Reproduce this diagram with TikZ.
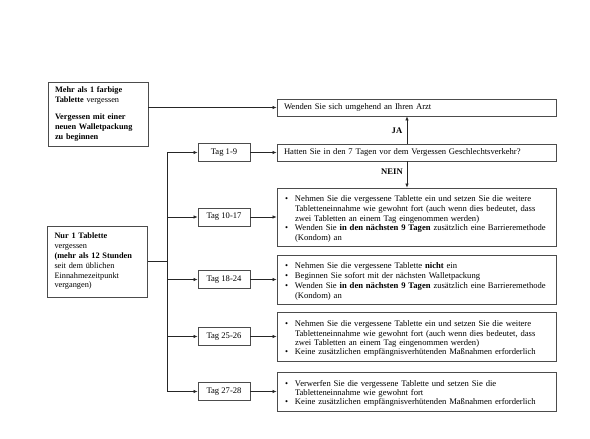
\documentclass[tikz,border=0pt]{standalone}
\usepackage{fontspec}
\setmainfont{Liberation Serif}
\usetikzlibrary{arrows.meta}
\newcommand{\itm}[1]{\par\noindent\makebox[11pt][l]{\hspace{1pt}\textbullet}\parbox[t]{\dimexpr\linewidth-11pt}{\raggedright #1}}

\begin{document}
\begin{tikzpicture}[x=1pt,y=-1pt,font=\fontsize{8.6}{9.8}\selectfont,
  box/.style={draw=black!70,line width=0.8pt,inner xsep=7pt,inner ysep=2pt,align=left},
  leftbox/.style={box,text width=86pt,font=\fontsize{8.3}{9.8}\selectfont},
  tagbox/.style={draw=black!70,line width=0.8pt,minimum width=52pt,minimum height=18pt,inner sep=1pt},
  arr/.style={-{Latex[length=4pt,width=3.5pt]},line width=0.7pt,black!85},
  conn/.style={line width=0.7pt,black!85}]
\useasboundingbox (0,0) rectangle (590,439);
\node[leftbox,minimum height=64pt] at (98,114) (left1) {\textbf{Mehr als 1 farbige}\\ \textbf{Tablette} vergessen\\[7pt] \textbf{Vergessen mit einer}\\ \textbf{neuen Walletpackung}\\ \textbf{zu beginnen}};
\node[leftbox,minimum height=71pt] at (97.5,261.5) (left2) {\textbf{Nur 1 Tablette}\\ vergessen\\ \textbf{(mehr als 12 Stunden}\\ seit dem üblichen\\ Einnahmezeitpunkt\\ vergangen)};
\node[box,text width=265pt,minimum height=17pt] at (416.5,107.5) (arzt) {Wenden Sie sich umgehend an Ihren Arzt};
\node[box,text width=265pt,minimum height=17pt] at (416.5,152.5) (frage) {Hatten Sie in den 7 Tagen vor dem Vergessen Geschlechtsverkehr?};
\node[box,text width=265pt,minimum height=58pt] at (416.5,217) (res2) {\itm{Nehmen Sie die vergessene Tablette ein und setzen Sie die weitere\\ Tabletteneinnahme wie gewohnt fort (auch wenn dies bedeutet, dass\\ zwei Tabletten an einem Tag eingenommen werden)}\itm{Wenden Sie \textbf{in den nächsten 9 Tagen} zusätzlich eine Barrieremethode\\ (Kondom) an}};
\node[box,text width=265pt,minimum height=49pt] at (416.5,279.5) (res3) {\itm{Nehmen Sie die vergessene Tablette \textbf{nicht} ein}\itm{Beginnen Sie sofort mit der nächsten Walletpackung}\itm{Wenden Sie \textbf{in den nächsten 9 Tagen} zusätzlich eine Barrieremethode\\ (Kondom) an}};
\node[box,text width=265pt,minimum height=49pt] at (416.5,336.5) (res4) {\itm{Nehmen Sie die vergessene Tablette ein und setzen Sie die weitere\\ Tabletteneinnahme wie gewohnt fort (auch wenn dies bedeutet, dass\\ zwei Tabletten an einem Tag eingenommen werden)}\itm{Keine zusätzlichen empfängnisverhütenden Maßnahmen erforderlich}};
\node[box,text width=265pt,minimum height=39pt] at (416.5,391.5) (res5) {\itm{Verwerfen Sie die vergessene Tablette und setzen Sie die\\ Tabletteneinnahme wie gewohnt fort}\itm{Keine zusätzlichen empfängnisverhütenden Maßnahmen erforderlich}};
\node[tagbox] at (224,152.5) (tag1) {Tag 1-9};
\node[tagbox] at (224,217) (tag2) {Tag 10-17};
\node[tagbox] at (224,279.5) (tag3) {Tag 18-24};
\node[tagbox] at (224,336.5) (tag4) {Tag 25-26};
\node[tagbox] at (224,391.5) (tag5) {Tag 27-28};
\node at (397,131) (ja) {\textbf{JA}};
\node at (392,172) (nein) {\textbf{NEIN}};
\coordinate (bus) at (167,261.5);
% Verbindungen
\draw[arr] (left1.east |- arzt.west) -- (arzt.west);
\draw[arr] ([xshift=-9.5pt]frage.north) -- ([xshift=-9.5pt]arzt.south);
\draw[arr] ([xshift=-9.5pt]frage.south) -- ([xshift=-9.5pt]res2.north);
\draw[conn] (left2.east) -- (bus);
\draw[conn] (bus |- tag1.west) -- (bus |- tag5.west);
\draw[arr] (bus |- tag1.west) -- (tag1.west);
\draw[arr] (bus |- tag2.west) -- (tag2.west);
\draw[arr] (bus |- tag3.west) -- (tag3.west);
\draw[arr] (bus |- tag4.west) -- (tag4.west);
\draw[arr] (bus |- tag5.west) -- (tag5.west);
\draw[arr] (tag1.east) -- (frage.west);
\draw[arr] (tag2.east) -- (res2.west);
\draw[arr] (tag3.east) -- (res3.west);
\draw[arr] (tag4.east) -- (res4.west);
\draw[arr] (tag5.east) -- (res5.west);
\end{tikzpicture}
\end{document}
